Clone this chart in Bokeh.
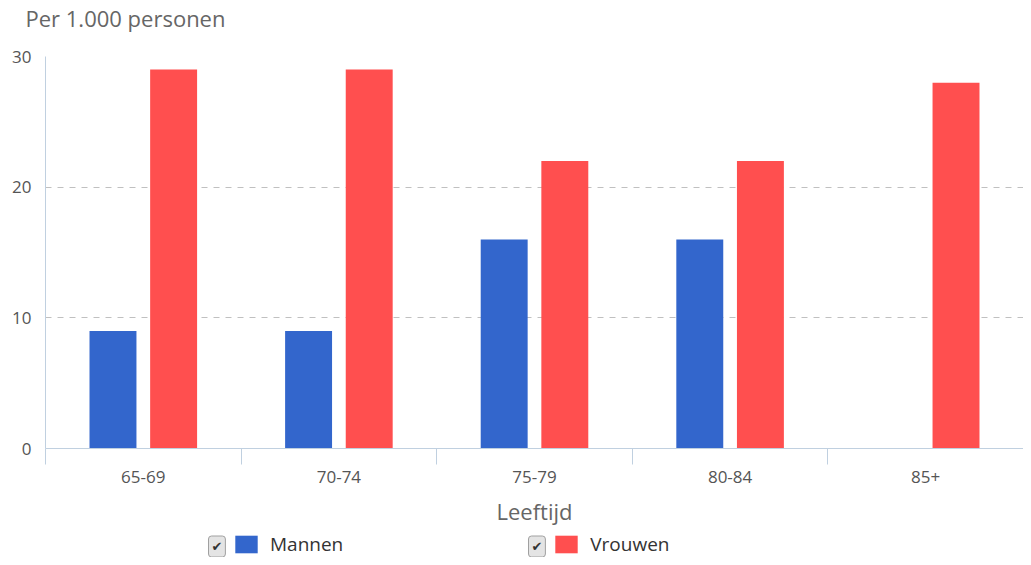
import numpy as np
from bokeh.plotting import figure
from bokeh.layouts import column
from bokeh.models import (Range1d, LinearAxis, FixedTicker,
                          Legend, LegendItem, ColumnDataSource, Label)
from bokeh.transform import dodge
from bokeh.embed import file_html
from bokeh.resources import INLINE

categories = ["65-69", "70-74", "75-79", "80-84", "85+"]
mannen = [9, 9, 16, 16, float("nan")]
vrouwen = [29, 29, 22, 22, 28]
y_ticks = [0, 10, 20, 30]
y_title = "Per 1.000 personen"
x_title = "Leeftijd"
series_names = ["Mannen", "Vrouwen"]
colors = ["#3366CC", "#FF4F4F"]

FONT = "Open Sans"
AXIS_COL = "#C0D0E0"
W = 1023

n = len(categories)
centers = np.arange(n) + 0.5
src = ColumnDataSource(dict(xc=centers, mannen=mannen, vrouwen=vrouwen))

# header strip with the unit title
p0 = figure(width=W, height=40, x_range=Range1d(0, 1), y_range=Range1d(0, 1),
            x_axis_location=None, y_axis_location=None,
            output_backend="svg", toolbar_location=None,
            min_border_left=0, min_border_right=0, min_border_top=0, min_border_bottom=0)
p0.outline_line_color = None
p0.grid.visible = False
p0.title.text = y_title
p0.title.text_font = FONT
p0.title.text_font_size = "22px"
p0.title.text_font_style = "normal"
p0.title.text_color = "#666666"
p0.title.align = "left"
p0.title.offset = -20
p0.title.standoff = 0

p = figure(width=W, height=488,
           x_range=Range1d(0, n),
           y_range=Range1d(0, 30),
           x_axis_location=None,
           output_backend="svg", toolbar_location=None,
           min_border_left=45, min_border_right=0, min_border_top=16, min_border_bottom=79)
p.outline_line_color = None
p.background_fill_color = "white"
p.border_fill_color = "white"

p.vbar(x=dodge("xc", -0.155), top="mannen", width=0.24,
       source=src, fill_color=colors[0], line_color=None)
p.vbar(x=dodge("xc", 0.155), top="vrouwen", width=0.24,
       source=src, fill_color=colors[1], line_color=None)

# y axis
yax = p.yaxis[0]
yax.ticker = FixedTicker(ticks=y_ticks)
yax.major_tick_line_color = None
yax.minor_tick_line_color = None
yax.axis_line_color = AXIS_COL
yax.major_label_text_font = FONT
yax.major_label_text_font_size = "17px"
yax.major_label_text_color = "#555555"
yax.major_label_standoff = 8
yax.major_label_text_baseline = "alphabetic"

p.ygrid.ticker = FixedTicker(ticks=y_ticks)
p.ygrid.grid_line_dash = "6 6"
p.ygrid.grid_line_color = "#C0C0C0"
p.xgrid.visible = False

# boundary tick axis
bounds = list(range(n + 1))
ax_b = LinearAxis(ticker=FixedTicker(ticks=bounds),
                  major_label_overrides={i: "" for i in bounds},
                  major_label_text_font_size="0px",
                  major_label_standoff=0,
                  major_tick_out=16, major_tick_in=0,
                  minor_tick_line_color=None,
                  axis_line_color=AXIS_COL, major_tick_line_color=AXIS_COL)
p.add_layout(ax_b, "below")

ax_c = LinearAxis(ticker=FixedTicker(ticks=list(centers)),
                  major_label_overrides={float(c): lab for c, lab in zip(centers, categories)},
                  major_tick_line_color=None, axis_line_color=None,
                  minor_tick_line_color=None,
                  major_label_text_font=FONT, major_label_text_font_size="17px",
                  major_label_text_color="#555555", major_label_standoff=0,
                  axis_label=x_title, axis_label_text_font=FONT,
                  axis_label_text_font_size="22px", axis_label_text_font_style="normal",
                  axis_label_text_color="#666666", axis_label_standoff=10)
p.add_layout(ax_c, "below")

# legend strip (swatch renderers sit outside the strip's visible range)
p2 = figure(width=W, height=29, x_range=Range1d(0, 1), y_range=Range1d(0, 1),
            x_axis_location=None, y_axis_location=None,
            output_backend="svg", toolbar_location=None,
            min_border_left=0, min_border_right=0, min_border_top=0, min_border_bottom=0)
p2.outline_line_color = None
p2.grid.visible = False
lr_m = p2.vbar(x=[5], top=[1], width=0.1, fill_color=colors[0], line_color=None)
lr_v = p2.vbar(x=[5], top=[1], width=0.1, fill_color=colors[1], line_color=None)

legend = Legend(items=[LegendItem(label=series_names[0], renderers=[lr_m]),
                       LegendItem(label=series_names[1], renderers=[lr_v])],
                orientation="horizontal", location=(187, 0),
                glyph_width=28, glyph_height=22, label_standoff=10, spacing=209,
                label_text_font=FONT, label_text_font_size="19px", label_text_color="#333333",
                border_line_color=None, background_fill_alpha=0, padding=0, margin=0)
p2.add_layout(legend, "center")

for xx in (163, 483):
    p2.add_layout(Label(x=xx, y=11, x_units="screen", y_units="screen", text="\u2714",
                        text_baseline="middle", text_align="left",
                        text_font_size="13px", text_color="#333333", text_font="DejaVu Sans",
                        background_fill_color="#E4E4E4", border_line_color="#A0A0A0",
                        padding=3, border_radius=3))

open("out.html", "w").write(file_html(column(p0, p, p2, spacing=0), INLINE))
